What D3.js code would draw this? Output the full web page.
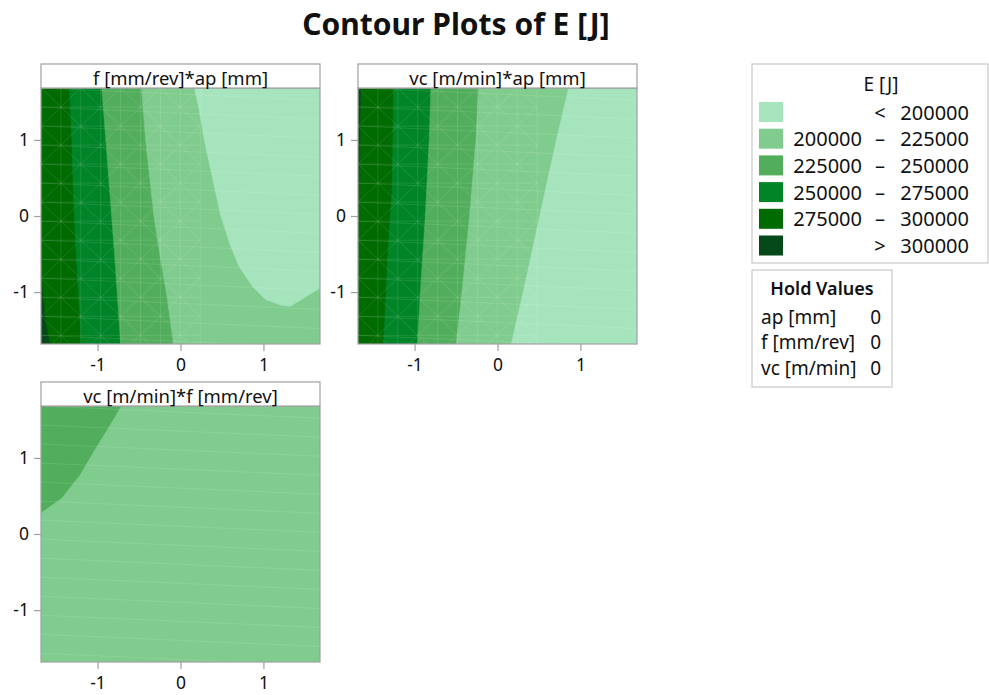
<!DOCTYPE html>
<html>
<head>
<meta charset="utf-8">
<script src="https://cdn.jsdelivr.net/npm/d3@7"></script>
<style>
  body { margin: 0; background: #fff; }
  svg { display: block; font-family: "Noto Sans", "Open Sans", sans-serif; }
</style>
</head>
<body>
<svg id="chart" width="989" height="695"></svg>
<script>
// Coded factor range (axial distance of the design)
const AXIS_LIMIT = 1.682;
const tickValues = [-1, 0, 1];

// Contour bands of E [J], lightest to darkest
const bandLabels = [
  ["", "<", "200000"],
  ["200000", "–", "225000"],
  ["225000", "–", "250000"],
  ["250000", "–", "275000"],
  ["275000", "–", "300000"],
  ["", ">", "300000"]
];
const bandColors = ["#a6e4be", "#80cc8e", "#52ae5c", "#008428", "#006b00", "#05481a"];

const holdFactors = ["ap [mm]", "f [mm/rev]", "vc [m/min]"];
const holdValues = [0, 0, 0];

// Each contour line: [band on its lighter side, points [x, y] ending on the frame]
const fApBase = 5;
const fApLines = [
  [4, [[-1.682, -0.50], [-1.66, -1.0], [-1.62, -1.4], [-1.57, -1.682]]],
  [3, [[-1.338, 1.682], [-1.31, 1.0], [-1.29, 0.24], [-1.25, -0.64], [-1.22, -1.2], [-1.198, -1.682]]],
  [2, [[-0.95, 1.682], [-0.90, 1.0], [-0.83, 0.0], [-0.79, -0.575], [-0.722, -1.682]]],
  [1, [[-0.47, 1.682], [-0.42, 1.0], [-0.32, 0.0], [-0.24, -0.575], [-0.17, -1.0], [-0.084, -1.682]]],
  [0, [[0.168, 1.682], [0.228, 1.386], [0.287, 1.0], [0.427, 0.296], [0.487, 0.0], [0.607, -0.40],
       [0.707, -0.662], [0.866, -0.924], [1.026, -1.098], [1.226, -1.176], [1.325, -1.185],
       [1.585, -1.011], [1.682, -0.946]]]
];

const vcApBase = 5;
const vcApLines = [
  [4, [[-1.645, 1.682], [-1.66, 0.6], [-1.682, -0.2]]],
  [3, [[-1.253, 1.682], [-1.261, 1.0], [-1.27, 0.3], [-1.293, 0.0], [-1.325, -0.575], [-1.341, -1.0], [-1.373, -1.682]]],
  [2, [[-0.803, 1.682], [-0.823, 1.0], [-0.87, 0.0], [-0.93, -1.0], [-0.963, -1.682]]],
  [1, [[-0.227, 1.682], [-0.26, 1.0], [-0.336, 0.0], [-0.428, -1.0], [-0.497, -1.682]]],
  [0, [[0.858, 1.682], [0.71, 1.0], [0.51, 0.0], [0.31, -1.0], [0.167, -1.682]]]
];

const vcFBase = 2;
const vcFLines = [
  [1, [[-0.71, 1.682], [-0.85, 1.426], [-1.01, 1.143], [-1.21, 0.774], [-1.429, 0.47], [-1.682, 0.274]]]
];

const svg = d3.select("#chart");
const L = AXIS_LIMIT;

// Position of a frame point along the border, counter-clockwise on screen from the top-left corner
function borderPos([px, py]) {
  const e = 1e-6;
  if (Math.abs(px + L) < e) return (L - py) / (2 * L);
  if (Math.abs(py + L) < e) return 1 + (px + L) / (2 * L);
  if (Math.abs(px - L) < e) return 2 + (py + L) / (2 * L);
  return 3 + (L - px) / (2 * L);
}
const corners = [[0, [-L, L]], [1, [-L, -L]], [2, [L, -L]], [3, [L, L]]];

// Close a contour line into the region on its lighter side by following the frame
function closeRegion(pts) {
  const a = borderPos(pts[pts.length - 1]);
  let b = borderPos(pts[0]);
  if (b <= a) b += 4;
  const extra = [];
  for (let k = 0; k < 2; k++) {
    corners.forEach(([s, c]) => {
      const t = s + 4 * k;
      if (t > a && t < b) extra.push([t, c]);
    });
  }
  extra.sort((m, n) => m[0] - n[0]);
  return pts.concat(extra.map(d => d[1]));
}

const plotW = 279, plotH = 256, headH = 24;
let clipId = 0;

// Faint seams of the triangulated fill: a triangle mesh over part of the panel
// and long, gently sloping strips elsewhere
function drawSeams(area, x, y, meshX) {
  const seam = area.append("g").attr("stroke", "#ffffff").attr("stroke-opacity", 0.14)
    .attr("stroke-width", 0.8).attr("fill", "none");
  const step = 0.25, cell = 0.24;
  for (let v = L; v > -L - 0.3; v -= step) {
    seam.append("line").attr("x1", x(-L)).attr("y1", y(v))
      .attr("x2", x(L)).attr("y2", y(v - 0.16));
  }
  const nx = Math.max(0, Math.ceil((meshX + L) / cell));
  if (!nx) return;
  const ny = Math.ceil((2 * L) / step);
  for (let i = 0; i <= nx; i++) {
    const xv = -L + i * cell;
    seam.append("line").attr("x1", x(xv)).attr("y1", y(L)).attr("x2", x(xv)).attr("y2", y(-L));
  }
  for (let j = 0; j <= ny; j++) {
    const yv = L - j * step;
    seam.append("line").attr("x1", x(-L)).attr("y1", y(yv)).attr("x2", x(-L + nx * cell)).attr("y2", y(yv));
  }
  for (let i = 0; i < nx; i++) {
    for (let j = 0; j < ny; j++) {
      const x0 = -L + i * cell, y0 = L - j * step;
      const flip = (i + j) % 2 === 0;
      seam.append("line")
        .attr("x1", x(x0)).attr("y1", y(flip ? y0 : y0 - step))
        .attr("x2", x(x0 + cell)).attr("y2", y(flip ? y0 - step : y0));
    }
  }
}

function drawPanel(left, top, title, base, lines, meshX) {
  const g = svg.append("g").attr("transform", `translate(${left},${top})`);
  const x = d3.scaleLinear().domain([-L, L]).range([0, plotW]);
  const y = d3.scaleLinear().domain([-L, L]).range([plotH, 0]);
  const id = "clip" + (clipId++);
  g.append("clipPath").attr("id", id)
    .append("rect").attr("width", plotW).attr("height", plotH);

  const area = g.append("g").attr("clip-path", `url(#${id})`);
  area.append("rect").attr("width", plotW).attr("height", plotH).attr("fill", bandColors[base]);
  const line = d3.line().x(d => x(d[0])).y(d => y(d[1]));
  lines.forEach(([band, pts]) => {
    area.append("path")
      .attr("d", line(closeRegion(pts)) + "Z")
      .attr("fill", bandColors[band])
      .attr("stroke", bandColors[band])
      .attr("stroke-width", 0.6);
  });
  drawSeams(area, x, y, meshX);

  g.append("rect").attr("width", plotW).attr("height", plotH)
    .attr("fill", "none").attr("stroke", "#a0a0a0").attr("stroke-width", 1.2);

  // Header strip
  g.append("rect").attr("x", 0).attr("y", -headH).attr("width", plotW).attr("height", headH)
    .attr("fill", "#fff").attr("stroke", "#a0a0a0").attr("stroke-width", 1.2);
  g.append("text").attr("x", plotW / 2).attr("y", -headH / 2 + 1)
    .attr("text-anchor", "middle").attr("dominant-baseline", "central")
    .attr("font-size", 18.5).attr("fill", "#111").text(title);

  const ax = g.append("g").attr("transform", `translate(0,${plotH})`)
    .call(d3.axisBottom(x).tickValues(tickValues).tickSize(7).tickPadding(8).tickFormat(d => String(d)));
  const ay = g.append("g")
    .call(d3.axisLeft(y).tickValues(tickValues).tickSize(7).tickPadding(5).tickFormat(d => String(d)));
  [ax, ay].forEach(a => {
    a.select(".domain").remove();
    a.selectAll(".tick line").attr("stroke", "#a0a0a0").attr("stroke-width", 1.2);
    a.selectAll(".tick text").attr("font-size", 17.5).attr("fill", "#111")
      .attr("font-family", "\"Noto Sans\", sans-serif");
  });
}

drawPanel(41, 88, "f [mm/rev]*ap [mm]", fApBase, fApLines, 0.2);
drawPanel(358, 88, "vc [m/min]*ap [mm]", vcApBase, vcApLines, 0.3);
drawPanel(41, 406, "vc [m/min]*f [mm/rev]", vcFBase, vcFLines, -L);

// Title
svg.append("text").attr("x", 456).attr("y", 35).attr("text-anchor", "middle")
  .attr("font-size", 30).attr("font-weight", 700).attr("fill", "#111")
  .text("Contour Plots of E [J]");

// Legend of contour bands
const leg = svg.append("g").attr("transform", "translate(752,64)");
leg.append("rect").attr("width", 236).attr("height", 199)
  .attr("fill", "#fff").attr("stroke", "#c8c8c8").attr("stroke-width", 1.2);
leg.append("text").attr("x", 129).attr("y", 20).attr("text-anchor", "middle")
  .attr("dominant-baseline", "central").attr("font-size", 19).attr("fill", "#111").text("E [J]");
const rows = leg.selectAll("g.row").data(bandLabels).join("g")
  .attr("class", "row")
  .attr("transform", (d, i) => `translate(0,${48 + i * 26.7})`);
rows.append("rect").attr("x", 7).attr("y", -10).attr("width", 24).attr("height", 20)
  .attr("fill", (d, i) => bandColors[i]);
rows.append("text").attr("x", 110).attr("text-anchor", "end").attr("dominant-baseline", "central")
  .attr("font-size", 20).attr("fill", "#111").text(d => d[0]);
rows.append("text").attr("x", 128).attr("text-anchor", "middle").attr("dominant-baseline", "central")
  .attr("font-size", 20).attr("fill", "#111").text(d => d[1]);
rows.append("text").attr("x", 217).attr("text-anchor", "end").attr("dominant-baseline", "central")
  .attr("font-size", 20).attr("fill", "#111").text(d => d[2]);

// Hold values box
const hold = svg.append("g").attr("transform", "translate(752,270)");
hold.append("rect").attr("width", 140).attr("height", 117)
  .attr("fill", "#fff").attr("stroke", "#c8c8c8").attr("stroke-width", 1.2);
hold.append("text").attr("x", 70).attr("y", 18).attr("text-anchor", "middle")
  .attr("dominant-baseline", "central").attr("font-size", 18).attr("font-weight", 600)
  .attr("fill", "#111").text("Hold Values");
const hrows = hold.selectAll("g.hrow").data(holdFactors).join("g")
  .attr("class", "hrow")
  .attr("transform", (d, i) => `translate(0,${46.5 + i * 25.7})`);
hrows.append("text").attr("x", 9).attr("dominant-baseline", "central")
  .attr("font-size", 19).attr("fill", "#111").text(d => d);
hrows.append("text").attr("x", 129).attr("text-anchor", "end").attr("dominant-baseline", "central")
  .attr("font-size", 19).attr("fill", "#111").text((d, i) => holdValues[i]);
</script>
</body>
</html>
